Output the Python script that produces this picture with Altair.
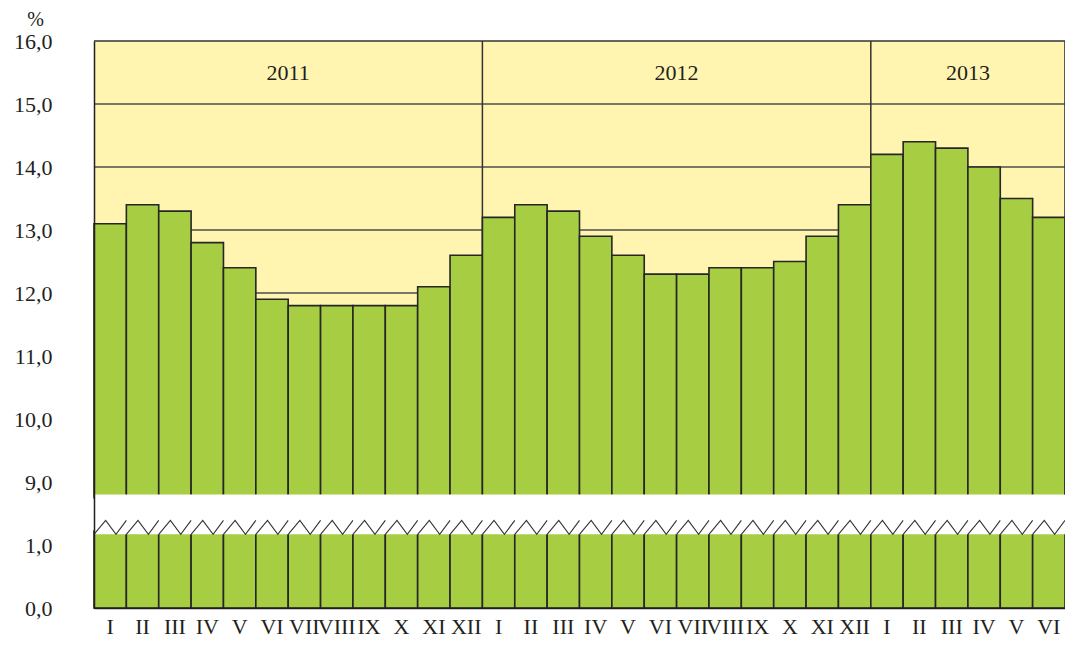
import json
import altair as alt
import pandas as pd

# ---- data ----
months = ["I", "II", "III", "IV", "V", "VI", "VII", "VIII", "IX", "X", "XI", "XII",
          "I", "II", "III", "IV", "V", "VI", "VII", "VIII", "IX", "X", "XI", "XII",
          "I", "II", "III", "IV", "V", "VI"]
values = [13.1, 13.4, 13.3, 12.8, 12.4, 11.9, 11.8, 11.8, 11.8, 11.8, 12.1, 12.6,
          13.2, 13.4, 13.3, 12.9, 12.6, 12.3, 12.3, 12.4, 12.4, 12.5, 12.9, 13.4,
          14.2, 14.4, 14.3, 14.0, 13.5, 13.2]
years = ["2011", "2012", "2013"]
months_per_year = [12, 12, 6]
y_tick_labels = ["0,0", "1,0", "9,0", "10,0", "11,0", "12,0", "13,0", "14,0", "15,0", "16,0"]

# broken axis: values >= 9 are shifted down by 7 so that 9 -> 2 and 16 -> 9
SHIFT = 7.0
UPPER_BASE = 1.75     # bottom of upper bar segment
LOWER_TOP = 1.22      # top of lower bar segment
GAP_LO, GAP_HI = 1.17, 1.80
ZIG_LO, ZIG_HI = 1.17, 1.39

n = len(values)
FONT = "Liberation Serif"
TXT = "#231f20"
GREEN = "#a7ce43"
YELLOW = "#fff5b0"

PLOT_W, PLOT_H = 971, 567

bars = pd.DataFrame({
    "i": list(range(n)),
    "i2": [k + 1 for k in range(n)],
    "xc": [k + 0.5 for k in range(n)],
    "month": months,
    "value": values,
    "top": [v - SHIFT for v in values],
})

# year header positions
starts, s = [], 0
for m in months_per_year:
    starts.append(s)
    s += m
year_df = pd.DataFrame({
    "year": years,
    "xc": [st + m / 2 for st, m in zip(starts, months_per_year)],
    "y": [8.5] * len(years),
})
sep_df = pd.DataFrame({"x": starts[1:], "y": [GAP_HI] * (len(starts) - 1), "y2": [9] * (len(starts) - 1)})

grid_df = pd.DataFrame({"y": [2, 3, 4, 5, 6, 7, 8]})

zig_rows = []
for k in range(n):
    for frac, yy in [(0.0, ZIG_LO), (0.36, ZIG_HI), (0.68, ZIG_LO), (1.0, ZIG_HI)]:
        zig_rows.append({"bar": k, "x": k + frac, "y": yy, "o": frac})
zig_df = pd.DataFrame(zig_rows)

box_df = pd.DataFrame({"x": [0], "x2": [n], "y": [GAP_HI], "y2": [9]})
gap_df = pd.DataFrame({"x": [0], "x2": [n], "y": [GAP_LO], "y2": [GAP_HI]})

x_scale = alt.Scale(domain=[0, n], nice=False, zero=False)
y_scale = alt.Scale(domain=[0, 9], nice=False, zero=False)

label_arr = json.dumps(y_tick_labels)

x_axis = alt.Axis(
    labels=False, ticks=False, grid=False, domain=True, domainColor=TXT, domainWidth=1.5,
    title=None, zindex=2,
)
y_axis = alt.Axis(
    values=list(range(10)),
    labelExpr=f"{label_arr}[datum.value]",
    ticks=False, grid=False, domain=True, domainColor=TXT, domainWidth=1.5,
    labelFont=FONT, labelFontSize=22, labelColor=TXT, labelPadding=42,
    labelOverlap=False,
    title="%", titleAngle=0, titleFont=FONT, titleFontSize=20, titleFontWeight="normal",
    titleColor=TXT, titleX=-59, titleY=-22, titleAlign="center", titleBaseline="middle",
    zindex=2,
)

yellow = alt.Chart(box_df).mark_rect(color=YELLOW).encode(
    x=alt.X("x:Q", scale=x_scale, axis=x_axis), x2="x2:Q",
    y=alt.Y("y:Q", scale=y_scale, axis=y_axis), y2="y2:Q",
)

grid = alt.Chart(grid_df).mark_rule(color="#4d4d4d", strokeWidth=1.3).encode(
    x=alt.value(0), x2=alt.value(PLOT_W), y=alt.Y("y:Q", scale=y_scale)
)

seps = alt.Chart(sep_df).mark_rule(color="#333333", strokeWidth=1.5).encode(
    x=alt.X("x:Q", scale=x_scale), y=alt.Y("y:Q", scale=y_scale), y2="y2:Q"
)

upper = alt.Chart(bars).mark_rect(fill=GREEN, stroke="#262626", strokeWidth=1.6).encode(
    x=alt.X("i:Q", scale=x_scale), x2="i2:Q",
    y=alt.Y("top:Q", scale=y_scale), y2=alt.Y2(datum=UPPER_BASE),
)
lower = alt.Chart(bars).mark_rect(fill=GREEN, stroke="#262626", strokeWidth=1.6).encode(
    x=alt.X("i:Q", scale=x_scale), x2="i2:Q",
    y=alt.Y(datum=0, scale=y_scale), y2=alt.Y2(datum=LOWER_TOP),
)

gap = alt.Chart(gap_df).mark_rect(color="white").encode(
    x=alt.X("x:Q", scale=x_scale), x2="x2:Q",
    y=alt.Y("y:Q", scale=y_scale), y2="y2:Q",
)

zig = alt.Chart(zig_df).mark_line(color="#333333", strokeWidth=1.1).encode(
    x=alt.X("x:Q", scale=x_scale), y=alt.Y("y:Q", scale=y_scale),
    detail="bar:N", order="o:Q",
)

top_rule = alt.Chart(box_df).mark_rule(color="#333333", strokeWidth=1.6).encode(
    x=alt.X("x:Q", scale=x_scale), x2="x2:Q", y=alt.Y("y2:Q", scale=y_scale)
)
right_rule = alt.Chart(box_df).mark_rule(color="#333333", strokeWidth=1.6).encode(
    x=alt.X("x2:Q", scale=x_scale), y=alt.Y("y:Q", scale=y_scale), y2="y2:Q"
)

year_text = alt.Chart(year_df).mark_text(
    font=FONT, fontSize=22, color=TXT, align="center", baseline="middle"
).encode(
    x=alt.X("xc:Q", scale=x_scale), y=alt.Y("y:Q", scale=y_scale), text="year:N"
)

month_text = alt.Chart(bars).mark_text(
    font=FONT, fontSize=22, color=TXT, align="center", baseline="alphabetic"
).encode(
    x=alt.X("xc:Q", scale=x_scale), y=alt.value(PLOT_H + 26), text="month:N"
)

chart = alt.layer(
    yellow, grid, seps, upper, lower, gap, zig, top_rule, right_rule, year_text, month_text
).properties(
    width=PLOT_W, height=PLOT_H,
    autosize=alt.AutoSizeParams(type="none"),
    padding={"left": 86, "top": 33, "right": 0, "bottom": 31},
).configure_view(stroke=None).configure(background="white")

chart.save("out.html", embed_options={"renderer": "svg", "actions": False})
